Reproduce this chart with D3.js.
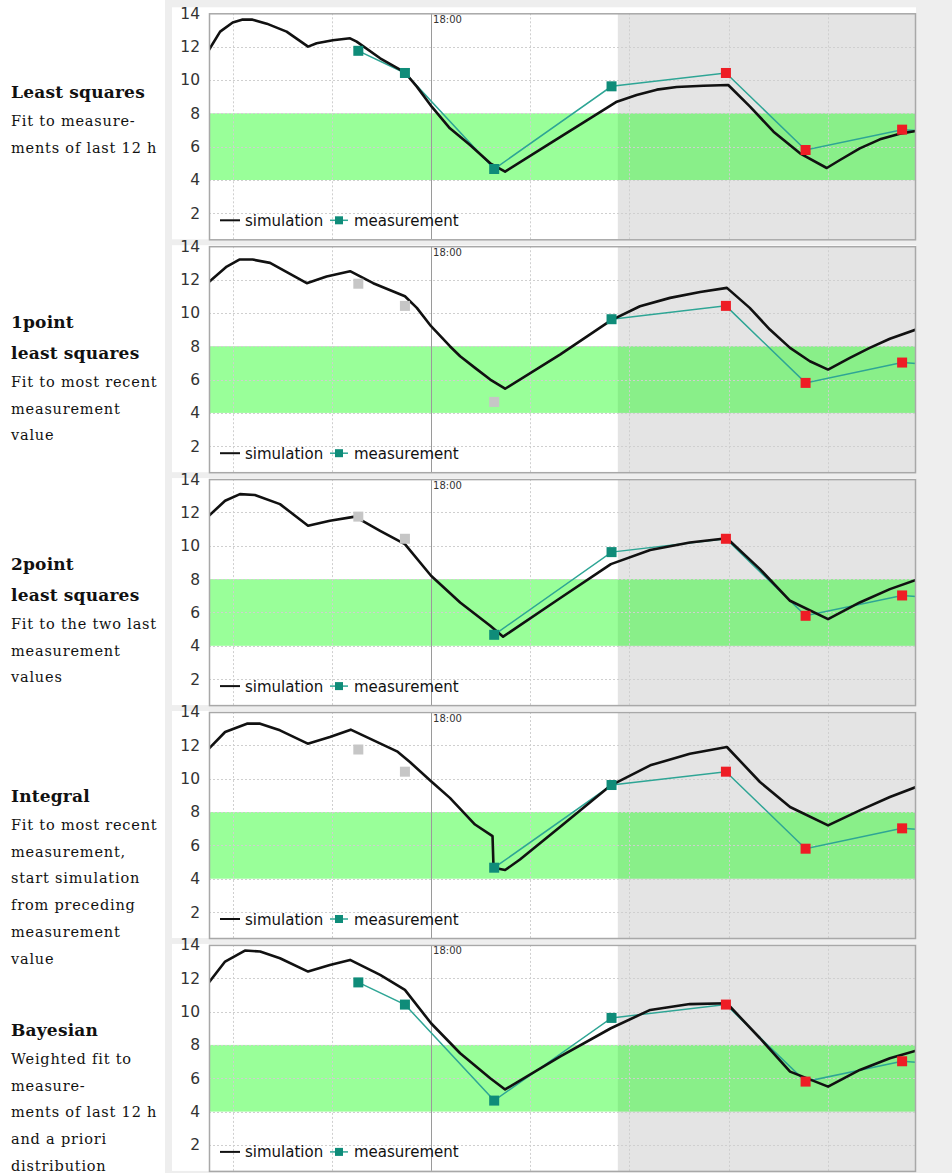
<!DOCTYPE html>
<html>
<head>
<meta charset="utf-8">
<script src="https://cdn.jsdelivr.net/npm/d3@7"></script>
<style>
  body { margin: 0; background: #fff; }
  svg { display: block; }
</style>
</head>
<body>
<svg id="chart"></svg>
<script>
const width = 952;
const height = 1173;

// x values are hours after 12:00, grid every 3 h
const gridHours = [0, 3, 9, 12, 15, 18];
const markerHour = 6;
const markerLabel = '18:00';
const nowHour = 11.65;
const yTicks = [2, 4, 6, 8, 10, 12, 14];
const targetBand = [4, 8];

const measHours = [3.80, 5.21, 7.91, 11.46, 14.92, 17.33, 20.25, 21.5];
const measValues = [11.75, 10.42, 4.66, 9.62, 10.42, 5.8, 7.02, 6.85];
// first measurement used by each fit, earlier ones are grey
const firstUsed = [0, 3, 2, 2, 0];

const titles = [
    ['Least squares'],
    ['1point', 'least squares'],
    ['2point', 'least squares'],
    ['Integral'],
    ['Bayesian']
];
const notes = [
    ['Fit to measure-', 'ments of last 12 h'],
    ['Fit to most recent', 'measurement', 'value'],
    ['Fit to the two last', 'measurement', 'values'],
    ['Fit to most recent', 'measurement,', 'start simulation', 'from preceding', 'measurement', 'value'],
    ['Weighted fit to', 'measure-', 'ments of last 12 h', 'and a priori', 'distribution']
];

const sim1 = [[-0.72, 11.8], [-0.38, 12.9], [0, 13.45], [0.28, 13.62], [0.6, 13.62], [1.03, 13.38],
    [1.63, 12.9], [2.28, 12.0], [2.54, 12.2], [3.03, 12.38], [3.55, 12.5], [3.75, 12.3], [4.46, 11.3],
    [5.21, 10.45], [5.57, 9.6], [6.02, 8.4], [6.57, 7.1], [7.18, 6.1], [7.79, 5.0], [8.24, 4.5],
    [9.6, 6.2], [10.81, 7.7], [11.62, 8.7], [12.22, 9.1], [12.83, 9.42], [13.43, 9.58], [14.24, 9.65],
    [14.99, 9.7], [15.65, 8.4], [16.36, 6.9], [17.16, 5.6], [17.97, 4.72], [18.37, 5.2], [18.97, 5.9],
    [19.58, 6.44], [20.18, 6.78], [20.67, 6.94]];
const sim2 = [[-0.72, 11.85], [-0.18, 12.78], [0.2, 13.2], [0.6, 13.2], [1.13, 13.0], [2.24, 11.78],
    [2.84, 12.18], [3.55, 12.5], [4.25, 11.78], [5.21, 11.0], [5.57, 10.3], [6.0, 9.2], [6.57, 8.0],
    [6.88, 7.4], [7.33, 6.7], [7.79, 6.0], [8.24, 5.45], [9.9, 7.5], [11.44, 9.55], [12.32, 10.4],
    [13.23, 10.9], [14.14, 11.25], [14.95, 11.5], [15.64, 10.3], [16.25, 9.0], [16.86, 7.9],
    [17.46, 7.1], [18.01, 6.6], [18.67, 7.3], [19.27, 7.9], [19.88, 8.45], [20.67, 9.0]];
const sim3 = [[-0.72, 11.8], [-0.23, 12.7], [0.22, 13.1], [0.67, 13.05], [1.43, 12.5], [2.28, 11.2],
    [2.94, 11.5], [3.70, 11.75], [4.46, 10.9], [5.21, 10.1], [6.0, 8.2], [6.88, 6.6], [7.79, 5.2],
    [8.18, 4.55], [9.9, 6.85], [11.44, 8.9], [12.63, 9.75], [13.83, 10.2], [14.95, 10.45],
    [15.95, 8.6], [16.86, 6.7], [18.01, 5.6], [18.97, 6.6], [19.88, 7.4], [20.67, 7.95]];
const sim4 = [[-0.72, 11.8], [-0.23, 12.8], [0.43, 13.3], [0.83, 13.3], [1.43, 12.9], [2.27, 12.1],
    [2.94, 12.5], [3.57, 12.94], [4.97, 11.64], [5.36, 11.0], [6.0, 9.85], [6.57, 8.85], [7.33, 7.25],
    [7.86, 6.55], [7.89, 4.66], [8.24, 4.52], [8.69, 5.15], [9.9, 7.1], [11.44, 9.6], [12.63, 10.8],
    [13.83, 11.5], [14.95, 11.9], [15.95, 9.8], [16.86, 8.3], [18.01, 7.2], [18.97, 8.1],
    [19.88, 8.9], [20.67, 9.5]];
const sim5 = [[-0.72, 11.75], [-0.23, 13.0], [0.37, 13.66], [0.83, 13.6], [1.43, 13.2], [2.28, 12.4],
    [2.94, 12.8], [3.55, 13.1], [4.46, 12.2], [5.21, 11.3], [6.0, 9.3], [6.88, 7.5], [7.79, 6.0],
    [8.24, 5.33], [9.9, 7.3], [11.44, 9.0], [12.63, 10.1], [13.83, 10.45], [14.95, 10.5],
    [15.95, 8.4], [16.86, 6.4], [18.01, 5.5], [18.97, 6.5], [19.88, 7.2], [20.67, 7.65]];
const sims = [sim1, sim2, sim3, sim4, sim5];

const labelTop = [92, 322, 564, 796, 1030];

const plotLeft = 209;
const plotRight = 916;
const plotH = 226;
const panelStep = 232.9;
const firstTop = 13.3;
const pxPerUnit = 16.67;

const teal = '#0f8c79';
const tealLine = '#2ea595';
const red = '#ee1d25';
const grey = '#c6c6c6';

const svg = d3.select('#chart')
    .attr('width', width)
    .attr('height', height)
    .style('font-family', '"DejaVu Sans", sans-serif');

svg.append('rect').attr('x', 165).attr('y', 0).attr('width', width - 165).attr('height', height)
    .attr('fill', '#eeeeee');

const x = d3.scaleLinear().domain([-0.717, 20.67]).range([plotLeft, plotRight]);

const line = d3.line().x(d => x(d[0])).y(d => d.y);

sims.forEach((sim, i) => {
    const top = firstTop + panelStep * i;
    const y = d3.scaleLinear().domain([14 - plotH / pxPerUnit, 14]).range([top + plotH, top]);
    const g = svg.append('g');

    // chart background
    g.append('rect')
        .attr('x', 172).attr('y', i == 0 ? top - 6 : top - 1)
        .attr('width', plotRight - 172).attr('height', plotH + (i == 0 ? 6 : 1))
        .attr('fill', '#fff');

    const clipId = 'clip' + i;
    g.append('clipPath').attr('id', clipId).append('rect')
        .attr('x', plotLeft).attr('y', top).attr('width', plotRight - plotLeft).attr('height', plotH);

    const plot = g.append('g').attr('clip-path', `url(#${clipId})`);

    plot.append('rect')
        .attr('x', x(nowHour)).attr('y', top)
        .attr('width', plotRight - x(nowHour)).attr('height', plotH)
        .attr('fill', '#e4e4e4');

    plot.append('rect')
        .attr('x', plotLeft).attr('y', y(targetBand[1]))
        .attr('width', plotRight - plotLeft).attr('height', y(targetBand[0]) - y(targetBand[1]))
        .attr('fill', 'rgba(0,255,0,0.4)');

    plot.selectAll('.hgrid').data(yTicks.slice(0, -1)).enter().append('line')
        .attr('x1', plotLeft).attr('x2', plotRight)
        .attr('y1', d => Math.round(y(d)) + 0.5).attr('y2', d => Math.round(y(d)) + 0.5)
        .attr('stroke', '#cfcfcf').attr('stroke-dasharray', '2,2');

    plot.selectAll('.vgrid').data(gridHours).enter().append('line')
        .attr('x1', d => Math.round(x(d)) + 0.5).attr('x2', d => Math.round(x(d)) + 0.5)
        .attr('y1', top).attr('y2', top + plotH)
        .attr('stroke', '#cfcfcf').attr('stroke-dasharray', '2,2');

    plot.append('line')
        .attr('x1', Math.round(x(markerHour)) + 0.5).attr('x2', Math.round(x(markerHour)) + 0.5)
        .attr('y1', top).attr('y2', top + plotH)
        .attr('stroke', '#9a9a9a').attr('stroke-width', 1);

    plot.append('text')
        .attr('x', x(markerHour) + 2).attr('y', top + 9.5)
        .attr('font-size', 10).attr('fill', '#333')
        .text(markerLabel);

    const meas = measHours.map((h, k) => ({h: h, v: measValues[k], k: k}));
    const used = meas.filter(d => d.k >= firstUsed[i]);

    plot.append('path')
        .datum(used.map(d => Object.assign([d.h, d.v], {y: y(d.v)})))
        .attr('fill', 'none').attr('stroke', tealLine).attr('stroke-width', 1.5)
        .attr('d', line);

    plot.append('path')
        .datum(sim.map(d => Object.assign([d[0], d[1]], {y: y(d[1])})))
        .attr('fill', 'none').attr('stroke', '#111').attr('stroke-width', 2.6)
        .attr('stroke-linejoin', 'round')
        .attr('d', line);

    plot.selectAll('.mark').data(meas).enter().append('rect')
        .attr('x', d => x(d.h) - 5).attr('y', d => y(d.v) - 5)
        .attr('width', 10).attr('height', 10)
        .attr('fill', d => d.k < firstUsed[i] ? grey : (d.h > nowHour ? red : teal));

    // legend
    const ly = top + 207;
    g.append('line').attr('x1', 220).attr('x2', 240).attr('y1', ly).attr('y2', ly)
        .attr('stroke', '#111').attr('stroke-width', 2);
    g.append('text').attr('x', 245).attr('y', ly + 5.5).attr('font-size', 15).attr('fill', '#111')
        .text('simulation');
    g.append('line').attr('x1', 330).attr('x2', 348).attr('y1', ly).attr('y2', ly)
        .attr('stroke', tealLine).attr('stroke-width', 1.5);
    g.append('rect').attr('x', 335).attr('y', ly - 4).attr('width', 8).attr('height', 8)
        .attr('fill', teal);
    g.append('text').attr('x', 354).attr('y', ly + 5.5).attr('font-size', 15).attr('fill', '#111')
        .text('measurement');

    // border
    g.append('rect')
        .attr('x', plotLeft + 0.5).attr('y', top + 0.5)
        .attr('width', plotRight - plotLeft - 1).attr('height', plotH)
        .attr('fill', 'none').attr('stroke', '#a8a8a8').attr('stroke-width', 1.5);

    const yAxis = g.append('g').attr('transform', `translate(${plotLeft},0)`)
        .call(d3.axisLeft(y).tickValues(yTicks).tickSize(0).tickPadding(9));
    yAxis.select('.domain').remove();
    yAxis.selectAll('text').attr('font-size', 15.5).attr('fill', '#333')
        .attr('font-family', '"DejaVu Sans", sans-serif');

    // method description on the left
    const tg = svg.append('g').attr('font-family', '"DejaVu Serif", serif').attr('fill', '#111');
    let ty = labelTop[i];
    titles[i].forEach((t, k) => {
        tg.append('text').attr('x', 11).attr('y', ty + 5.5).attr('font-size', 17)
            .attr('font-weight', 'bold').attr('letter-spacing', 0.2).text(t);
        if (k < titles[i].length - 1) ty += 31;
    });
    ty += 29;
    notes[i].forEach(t => {
        tg.append('text').attr('x', 11).attr('y', ty + 5).attr('font-size', 14.5)
            .attr('letter-spacing', 0.8).text(t);
        ty += 26.7;
    });
});
</script>
</body>
</html>
